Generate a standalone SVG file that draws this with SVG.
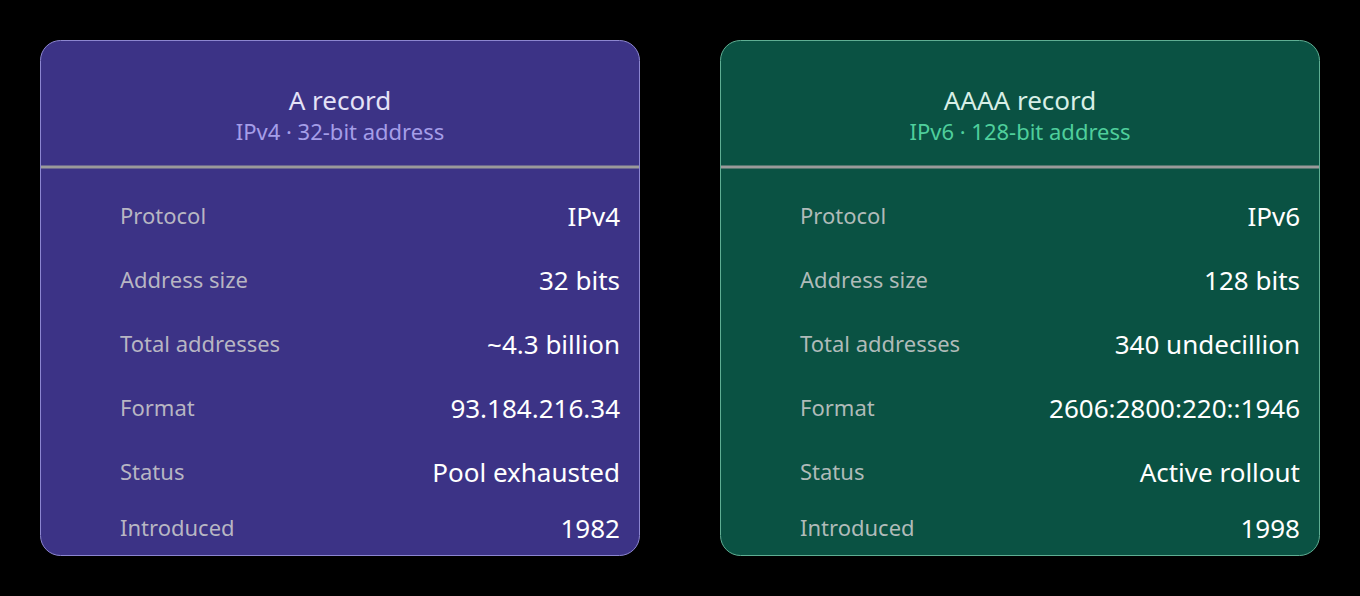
<svg xmlns="http://www.w3.org/2000/svg" width="1360" height="596" viewBox="0 0 1360 596">
<style>
text{font-family:"Noto Sans","Open Sans",sans-serif}
.t{font-size:26px;text-anchor:middle}
.s{font-size:22px;text-anchor:middle}
.l{font-size:22px;fill:#cfcfcf;fill-opacity:.85}
.v{font-size:26px;fill:#ffffff;text-anchor:end}
.div{stroke:#9a9a9a;stroke-width:3}
</style>
<rect width="1360" height="596" fill="#000"/>
<g id="a-record">
<rect x="40.5" y="40.5" width="599" height="515" rx="20" fill="#3c3386" stroke="#8c86d0" stroke-width="1"/>
<line class="div" x1="41" y1="167" x2="639" y2="167"/>
<text class="t" x="340" y="110" fill="#e4e2f7">A record</text>
<text class="s" x="340" y="140" fill="#a59ee8">IPv4 · 32-bit address</text>
<text class="l" x="120" y="224">Protocol</text><text class="v" x="620" y="226">IPv4</text>
<text class="l" x="120" y="288">Address size</text><text class="v" x="620" y="290">32 bits</text>
<text class="l" x="120" y="352">Total addresses</text><text class="v" x="620" y="354">~4.3 billion</text>
<text class="l" x="120" y="416">Format</text><text class="v" x="620" y="418">93.184.216.34</text>
<text class="l" x="120" y="480">Status</text><text class="v" x="620" y="482">Pool exhausted</text>
<text class="l" x="120" y="536">Introduced</text><text class="v" x="620" y="538">1982</text>
</g>
<g id="aaaa-record">
<rect x="720.5" y="40.5" width="599" height="515" rx="20" fill="#0a5243" stroke="#5fae93" stroke-width="1"/>
<line class="div" x1="721" y1="167" x2="1319" y2="167"/>
<text class="t" x="1020" y="110" fill="#d8efe6">AAAA record</text>
<text class="s" x="1020" y="140" fill="#4fcf9c">IPv6 · 128-bit address</text>
<text class="l" x="800" y="224">Protocol</text><text class="v" x="1300" y="226">IPv6</text>
<text class="l" x="800" y="288">Address size</text><text class="v" x="1300" y="290">128 bits</text>
<text class="l" x="800" y="352">Total addresses</text><text class="v" x="1300" y="354">340 undecillion</text>
<text class="l" x="800" y="416">Format</text><text class="v" x="1300" y="418">2606:2800:220::1946</text>
<text class="l" x="800" y="480">Status</text><text class="v" x="1300" y="482">Active rollout</text>
<text class="l" x="800" y="536">Introduced</text><text class="v" x="1300" y="538">1998</text>
</g>
<g id="connectors"/>
</svg>
